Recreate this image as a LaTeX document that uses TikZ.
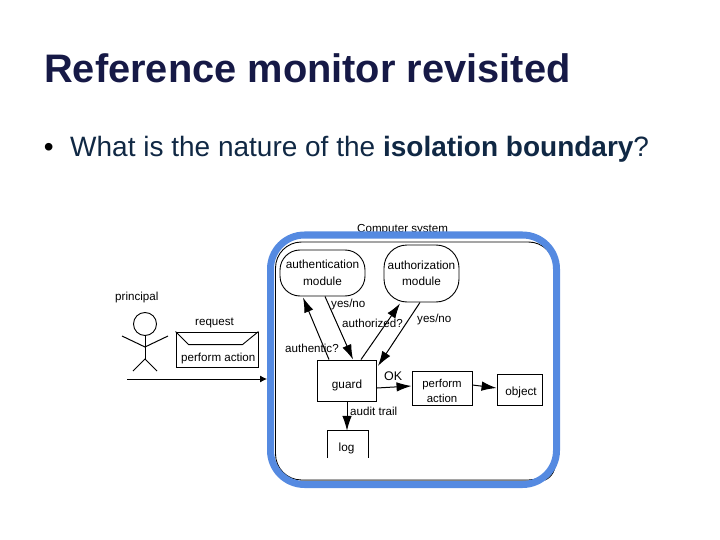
\documentclass[tikz,border=0pt]{standalone}
\usepackage{fontspec}
\setmainfont{Liberation Sans}
\usetikzlibrary{arrows.meta}
\definecolor{titlenavy}{RGB}{22,25,70}
\definecolor{bodynavy}{RGB}{16,40,68}
\definecolor{bluebound}{RGB}{85,138,225}
\tikzset{
  x=1pt,y=-1pt,
  box/.style={draw=black,line width=0.9pt,minimum width=#1,inner sep=0pt,align=center,font=\fontsize{11.8}{16.5}\selectfont},
  lbl/.style={inner sep=0pt,anchor=base west,font=\fontsize{11.6}{13}\selectfont},
  conn/.style={draw=black,line width=1pt,-{Latex[length=15pt,width=9.5pt]}},
  fig/.style={draw=black,line width=1pt},
}
\begin{document}
\begin{tikzpicture}
\useasboundingbox (0,0) rectangle (720,540);
\node[inner sep=0pt,anchor=base west,text=titlenavy,font=\fontsize{39.8}{42}\selectfont\bfseries] (title) at (44,82.7) {Reference monitor revisited};
\node[inner sep=0pt,anchor=base west,font=\fontsize{28}{32}\selectfont] (bullet) at (43.6,157) {•};
\node[inner sep=0pt,anchor=base west,text=bodynavy,font=\fontsize{28}{32}\selectfont] (body) at (70,157) {What is the nature of the \textbf{isolation boundary}?};

\node[lbl] (csys) at (357,233) {Computer system};
\node[draw=black,line width=0.9pt,minimum width=279pt,minimum height=238pt,inner sep=0pt,rounded corners=26pt] (sys) at (415,361) {};
\draw[gray,line width=1pt] (300,480) -- (530,480);
\coordinate (arcstart) at (555.7,460);
\coordinate (arcend) at (545,480);
\draw[line width=0.9pt] (arcstart) .. controls (555.7,470) and (552,477) .. (arcend);
\node[box=85pt,minimum height=46pt,rounded corners=20pt] (authn) at (322.5,273) {authentication\\module};
\node[box=75pt,minimum height=57pt,rounded corners=23pt] (authz) at (421.5,273.5) {authorization\\module};
\node[box=59pt,minimum height=41pt] (guard) at (347,380.5) {\raisebox{-7.5pt}[0pt][0pt]{guard}};
\node[box=60pt,minimum height=34pt,font=\fontsize{11.4}{15}\selectfont] (perform) at (442,388) {\rule{0pt}{14pt}perform\\action};
\node[box=45pt,minimum height=31pt] (object) at (519.5,389.5) {\hspace*{3pt}\raisebox{-5.5pt}[0pt][0pt]{object}};
\node[minimum width=40pt,minimum height=27pt,inner sep=0pt,font=\fontsize{11.8}{13}\selectfont] (log) at (348,444.5) {\hspace*{-3pt}\raisebox{-6.5pt}[0pt][0pt]{log}};
\draw[line width=0.9pt] (log.south west) |- (log.north east) -- (log.south east);

\node[lbl] (principal) at (115,300) {principal};
\node[lbl] (request) at (195,325) {request};
\node[draw=black,line width=0.9pt,minimum width=82pt,minimum height=35pt,inner sep=0pt] (env) at (217,349.5) {};
\node[lbl] (peract) at (181,361) {perform action};
\draw[line width=0.9pt] (env.north west) -- ++(13,13) -- ++(54,0) -- (env.north east);

\node[circle,draw=black,line width=0.9pt,minimum size=23pt,inner sep=0pt] (head) at (145,324) {};
\coordinate (neck) at (145,347);
\coordinate (hip) at (145,359);
\draw[fig] (head.south) -- (hip);
\draw[fig] (122,336) -- (neck) -- (168,336);
\draw[fig] (133,371) -- (hip) -- (157,371);

\coordinate (start) at (127,379);
\draw[draw=black,line width=1pt,-{Latex[length=7pt,width=7pt]},shorten >=8pt] (start) -- (sys.west |- start);
\draw[conn] ([xshift=-18pt]guard.north) -- ([xshift=-19.5pt,yshift=-1pt]authn.south);
\draw[conn] ([xshift=2.5pt]authn.south) -- ([xshift=6pt]guard.north);
\draw[conn] ([xshift=14pt]guard.north) -- ([xshift=-21.5pt,yshift=-1pt]authz.south);
\draw[conn] ([xshift=-1.5pt]authz.south) -- ([xshift=1pt,yshift=14.5pt]guard.east);
\draw[conn] ([yshift=-7.5pt]guard.east) -- ([yshift=2pt]perform.west);
\draw[conn] ([yshift=3pt]perform.east) -- ([yshift=1.5pt]object.west);
\draw[conn] (guard.south) -- (log.north -| guard.south);

\node[lbl] (yn1) at (331,307) {yes/no};
\node[lbl] (yn2) at (417,322) {yes/no};
\node[lbl] (authzq) at (342,327) {authorized?};
\node[lbl] (authnq) at (285,352) {authentic?};
\node[lbl,font=\fontsize{12.5}{14}\selectfont] (ok) at (384,380) {OK};
\node[lbl] (trail) at (350,415) {audit trail};

\node[draw=bluebound,line width=7pt,minimum width=286pt,minimum height=249.5pt,inner sep=0pt,rounded corners=34pt] (bound) at (413.5,359.75) {};
\end{tikzpicture}
\end{document}
